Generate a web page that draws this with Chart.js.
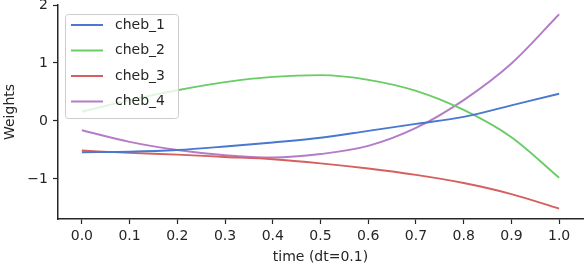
<!DOCTYPE html>
<html>
<head>
<meta charset="utf-8">
<script src="https://cdn.jsdelivr.net/npm/chart.js@4/dist/chart.umd.min.js"></script>
<style>
  html, body { margin: 0; padding: 0; background: #fff; }
  #wrap { width: 584px; height: 268px; }
</style>
</head>
<body>
<div id="wrap"><canvas id="weightsChart"></canvas></div>
<script>
const timeSteps = [0.0, 0.1, 0.2, 0.3, 0.4, 0.5, 0.6, 0.7, 0.8, 0.9, 1.0];
const cheb1 = [-0.54, -0.53, -0.50, -0.44, -0.37, -0.29, -0.17, -0.05, 0.07, 0.27, 0.47];
const cheb2 = [0.16, 0.36, 0.53, 0.67, 0.76, 0.79, 0.71, 0.52, 0.19, -0.28, -0.98];
const cheb3 = [-0.51, -0.55, -0.58, -0.62, -0.66, -0.73, -0.82, -0.93, -1.07, -1.26, -1.51];
const cheb4 = [-0.16, -0.36, -0.50, -0.59, -0.63, -0.57, -0.43, -0.12, 0.36, 0.99, 1.84];
const seriesNames = ['cheb_1', 'cheb_2', 'cheb_3', 'cheb_4'];
const xTicks = [0.0, 0.1, 0.2, 0.3, 0.4, 0.5, 0.6, 0.7, 0.8, 0.9, 1.0];
const yTicks = [-1, 0, 1, 2];

const textColor = '#262626';
const palette = ['#4878CF', '#6ACC65', '#D65F5F', '#B47CC7'];
const font = 'DejaVu Sans';

function toPoints(ys) {
    return timeSteps.map((t, i) => ({ x: t, y: ys[i] }));
}

// legend drawn inside the plot, upper left
const innerLegend = {
    id: 'innerLegend',
    afterDraw(chart) {
        const ctx = chart.ctx;
        const area = chart.chartArea;
        const x0 = area.left + 7, y0 = area.top + 9;
        const w = 113, h = 104;
        ctx.save();
        ctx.fillStyle = 'rgba(255,255,255,0.8)';
        ctx.strokeStyle = '#cccccc';
        ctx.lineWidth = 1;
        ctx.beginPath();
        ctx.roundRect(x0 + 0.5, y0 + 0.5, w, h, 3);
        ctx.fill();
        ctx.stroke();
        ctx.font = '14px "' + font + '"';
        ctx.textBaseline = 'middle';
        chart.data.datasets.forEach((ds, i) => {
            const yy = y0 + 11 + i * 25.5;
            ctx.strokeStyle = ds.borderColor;
            ctx.lineWidth = 2;
            ctx.beginPath();
            ctx.moveTo(x0 + 6, yy);
            ctx.lineTo(x0 + 38, yy);
            ctx.stroke();
            ctx.fillStyle = textColor;
            ctx.fillText(ds.label, x0 + 50, yy);
        });
        ctx.restore();
    }
};

const ctx = document.getElementById('weightsChart').getContext('2d');
new Chart(ctx, {
    type: 'line',
    data: {
        datasets: [cheb1, cheb2, cheb3, cheb4].map((ys, i) => ({
            label: seriesNames[i],
            data: toPoints(ys),
            borderColor: palette[i],
            backgroundColor: palette[i],
            borderWidth: 1.9,
            pointRadius: 0,
            cubicInterpolationMode: 'monotone',
            fill: false
        }))
    },
    options: {
        responsive: true,
        maintainAspectRatio: false,
        animation: false,
        layout: { padding: { top: 5, right: 1, left: 0, bottom: 0 } },
        plugins: { legend: { display: false }, tooltip: { enabled: false } },
        scales: {
            x: {
                type: 'linear',
                min: -0.05,
                max: 1.05,
                afterBuildTicks(scale) { scale.ticks = xTicks.map(v => ({ value: v })); },
                afterFit(scale) { scale.height = 49; },
                border: { display: true, color: textColor, width: 1.5 },
                grid: { drawOnChartArea: false, drawTicks: true, tickLength: 5, tickColor: textColor, tickWidth: 1.2 },
                ticks: {
                    color: textColor,
                    font: { family: font, size: 14 },
                    padding: 4,
                    maxRotation: 0,
                    autoSkip: false,
                    callback: v => v.toFixed(1)
                },
                title: {
                    display: true,
                    text: 'time (dt=0.1)',
                    color: textColor,
                    font: { family: font, size: 14 },
                    padding: { top: 0, bottom: 2 }
                }
            },
            y: {
                type: 'linear',
                min: -1.69,
                max: 2.0,
                afterBuildTicks(scale) { scale.ticks = yTicks.map(v => ({ value: v })); },
                afterFit(scale) {
                    scale.width = 58;
                    scale.paddingTop = 0;
                    scale.paddingBottom = 0;
                },
                border: { display: true, color: textColor, width: 1.5 },
                grid: { drawOnChartArea: false, drawTicks: true, tickLength: 5, tickColor: textColor, tickWidth: 1.2 },
                ticks: {
                    color: textColor,
                    font: { family: font, size: 14 },
                    padding: 5,
                    autoSkip: false,
                    callback: v => (v < 0 ? '\u2212' + Math.abs(v) : String(v))
                },
                title: {
                    display: true,
                    text: 'Weights',
                    color: textColor,
                    font: { family: font, size: 14 },
                    padding: { top: 2, bottom: 0 }
                }
            }
        }
    },
    plugins: [innerLegend]
});
</script>
</body>
</html>
